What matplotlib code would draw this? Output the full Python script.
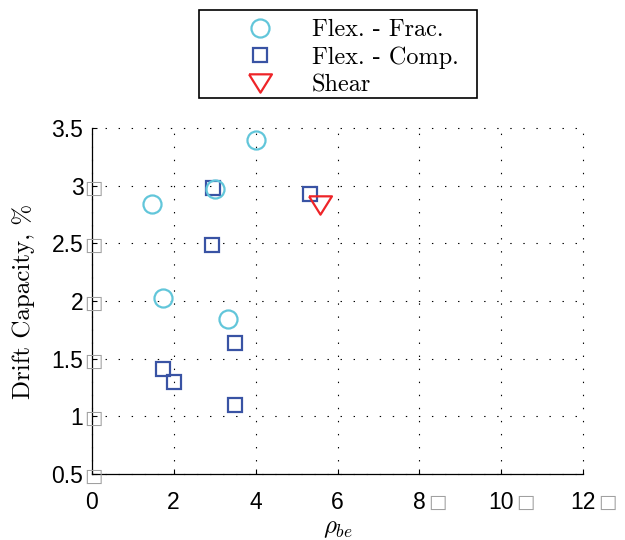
import matplotlib
matplotlib.use('Agg')
import matplotlib.pyplot as plt
from matplotlib.lines import Line2D
from matplotlib.patches import Rectangle

plt.rcParams['font.family'] = 'Liberation Sans'
plt.rcParams['mathtext.fontset'] = 'cm'
plt.rcParams['lines.scale_dashes'] = False

# drift capacity vs boundary element reinforcement ratio, by failure mode
frac_x = [1.47, 1.73, 3.00, 3.33, 4.00]
frac_y = [2.84, 2.03, 2.97, 1.84, 3.40]
comp_x = [1.74, 2.01, 2.94, 2.95, 3.50, 3.50, 5.34]
comp_y = [1.41, 1.30, 2.49, 2.98, 1.64, 1.10, 2.925]
shear_x = [5.58]
shear_y = [2.83]

xticks = [0, 2, 4, 6, 8, 10, 12]
yticks = [0.5, 1, 1.5, 2, 2.5, 3, 3.5]
xlabels = ['0', '2', '4', '6', '8', '10', '12']
ylabels = ['0.5', '1', '1.5', '2', '2.5', '3', '3.5']
# labels followed by a missing-glyph box
xboxed = ['8', '10', '12']
yboxed = ['0.5', '1', '1.5', '2', '2.5', '3']

c_frac = '#62C6DA'
c_comp = '#3953A4'
c_shear = '#EE2428'
tri = [(-1, 0.8), (1, 0.8), (0, -0.8), (-1, 0.8)]

fig = plt.figure(figsize=(6.25, 5.4), dpi=100)
ax = fig.add_axes([0.1467, 0.1222, 0.7866, 0.6407])

ax.plot(comp_x, comp_y, 's', mfc='none', mec=c_comp, ms=10.6, mew=1.6, zorder=3,
        label='Flex. - Comp.')
ax.plot(frac_x, frac_y, 'o', mfc='none', mec=c_frac, ms=13, mew=1.6, zorder=4,
        label='Flex. - Frac.')
ax.plot(shear_x, shear_y, marker=tri, ls='none', mfc='none', mec=c_shear, ms=16.5,
        mew=1.6, zorder=4, label='Shear')

ax.set_xlim(0, 12)
ax.set_ylim(0.5, 3.5)
ax.set_xticks(xticks)
ax.set_xticklabels(xlabels)
ax.set_yticks(yticks)
ax.set_yticklabels(ylabels)
ax.tick_params(direction='in', length=3.6, width=0.8, labelsize=16.5)
ax.tick_params(axis='x', pad=12)
ax.tick_params(axis='y', pad=6)
for s in ['top', 'right']:
    ax.spines[s].set_visible(False)
for s in ['left', 'bottom']:
    ax.spines[s].set_linewidth(0.9)

ax.grid(True, color='k', linestyle=(0, (1, 8.4)), linewidth=0.8)
for g in ax.get_xgridlines() + ax.get_ygridlines():
    g.set_clip_on(False)

for lbl in ax.get_xticklabels():
    if lbl.get_text() in xboxed:
        ax.annotate('\u25a1', xy=(1, 0.5), xycoords=lbl, xytext=(1.5, 0),
                    textcoords='offset points', ha='left', va='center',
                    color='#a0a0a0', fontsize=14, family='DejaVu Sans')
for lbl in ax.get_yticklabels():
    if lbl.get_text() in yboxed:
        ax.annotate('\u25a1', xy=(1, 0.5), xycoords=lbl, xytext=(0.5, 0),
                    textcoords='offset points', ha='left', va='center',
                    color='#a0a0a0', fontsize=14, family='DejaVu Sans')

ax.set_ylabel('Drift Capacity, %', family='cmr10', fontsize=18)
ax.yaxis.set_label_coords(-0.1153, 0.5)
ax.set_xlabel(r'$\rho_{be}$', fontsize=18)
ax.xaxis.set_label_coords(0.5, -0.12)

h = [Line2D([], [], marker='o', ls='none', mfc='none', mec=c_frac, ms=13, mew=1.6),
     Line2D([], [], marker='s', ls='none', mfc='none', mec=c_comp, ms=10.6, mew=1.6),
     Line2D([], [], marker=tri, ls='none', mfc='none', mec=c_shear, ms=16.5, mew=1.6)]
leg = fig.legend(h, ['Flex. - Frac.', 'Flex. - Comp.', 'Shear'],
                 loc='upper left', bbox_to_anchor=(199 / 625, 1 - 10 / 540),
                 borderaxespad=0, numpoints=1, frameon=False,
                 prop={'family': 'cmr10', 'size': 17.5},
                 handlelength=4.3, handletextpad=-0.02, borderpad=0.37,
                 labelspacing=0.22)
# legend box outline
fig.add_artist(Rectangle((199 / 625, 1 - 98 / 540), 278 / 625, 88 / 540,
                         transform=fig.transFigure, fill=False, ec='k', lw=1.2))

fig.savefig('out.png', dpi=100)
